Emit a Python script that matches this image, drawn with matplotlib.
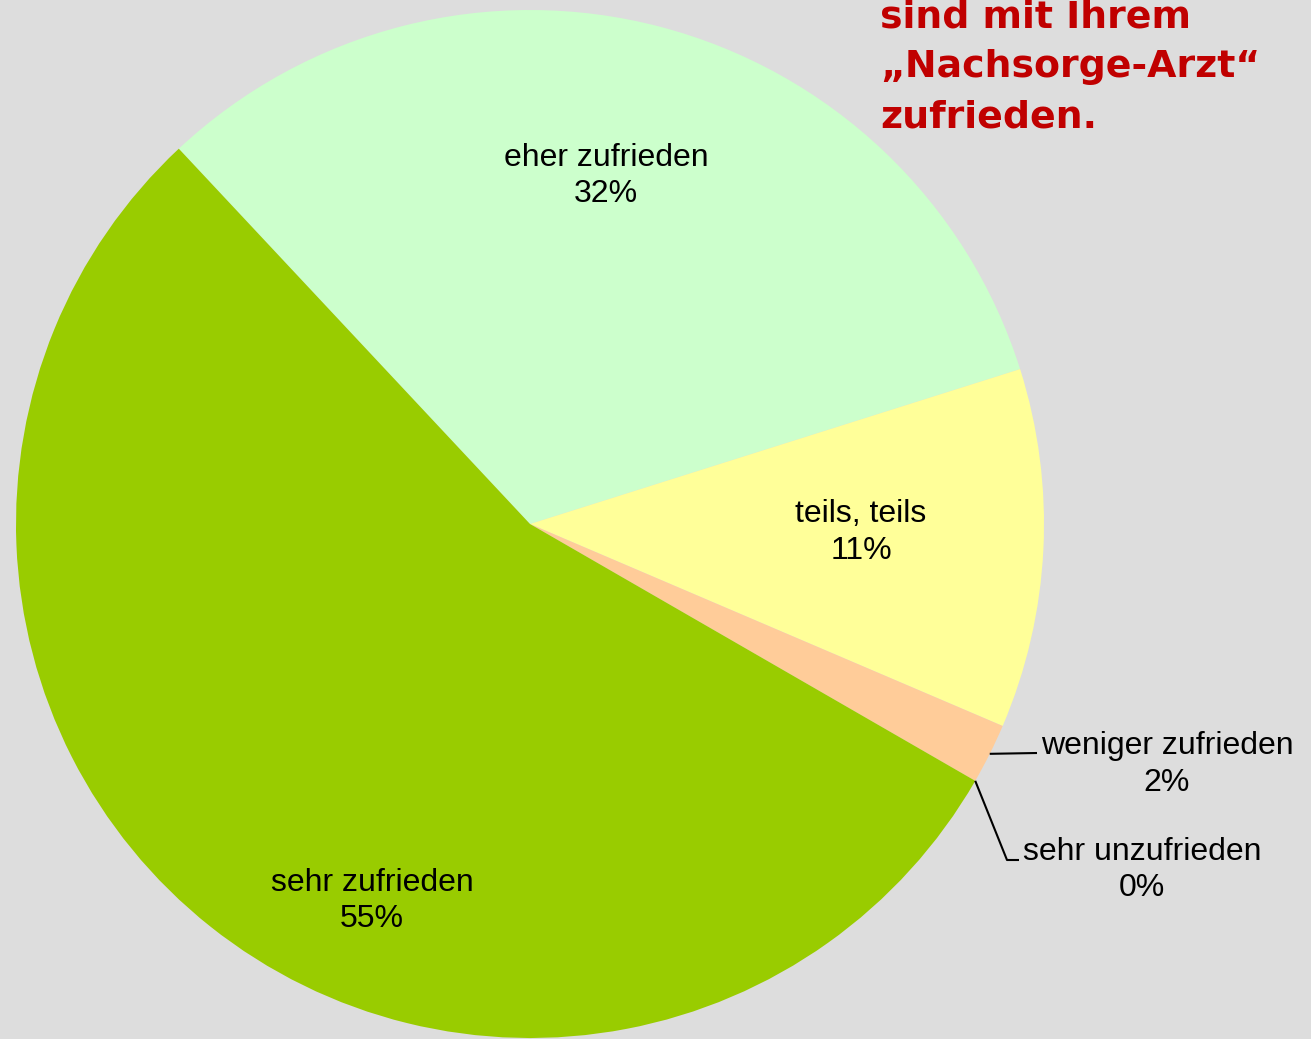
import numpy as np
import matplotlib
matplotlib.use("Agg")
import matplotlib.pyplot as plt

# ---- data ----
categories = ["eher zufrieden", "teils, teils", "weniger zufrieden",
              "sehr unzufrieden", "sehr zufrieden"]
values = [32.1, 11.3, 1.9, 0.0, 54.7]
pct_labels = ["32%", "11%", "2%", "0%", "55%"]
colors = ["#CCFFCC", "#FFFF99", "#FFCC99", "#CC99FF", "#99CC00"]
title_lines = ["sind mit Ihrem", "\u201eNachsorge-Arzt\u201c", "zufrieden."]

W, H = 1311, 1039
BG = "#DDDDDD"
fig = plt.figure(figsize=(W / 100, H / 100), dpi=100, facecolor=BG)
ax = fig.add_axes([0, 0, 1, 1])
ax.set_facecolor(BG)

cx, cy_px, R = 530, 524, 514
cy = H - cy_px
start = 133.1

wedges, _ = ax.pie(values, colors=colors, startangle=start, counterclock=False,
                   center=(cx, cy), radius=R, frame=True,
                   wedgeprops=dict(linewidth=0, antialiased=True))
ax.set_xlim(0, W)
ax.set_ylim(0, H)
ax.set_aspect("equal", adjustable="box")
ax.axis("off")

# wedge angles
ends = start - np.cumsum(values) / 100 * 360
starts = np.concatenate([[start], ends[:-1]])
mids = (starts + ends) / 2

FONT = "Liberation Sans"
FS = 23

def label(xp, yb1, yb2, t1, t2):
    ax.text(xp, H - yb1, t1, ha="center", va="baseline", fontsize=FS,
            family=FONT, color="black")
    ax.text(xp, H - yb2, t2, ha="center", va="baseline", fontsize=FS,
            family=FONT, color="black")

# inside labels
label(606, 166, 202, categories[0], pct_labels[0])
label(861, 522, 559, categories[1], pct_labels[1])
label(372, 891, 927, categories[4], pct_labels[4])
# outside labels
label(1167, 754, 791, categories[2], pct_labels[2])
label(1142, 860, 896, categories[3], pct_labels[3])

# leader lines
def edge_pt(angle):
    a = np.deg2rad(angle)
    return cx + R * np.cos(a), cy + R * np.sin(a)

x0, y0 = edge_pt(mids[2])
ax.plot([x0, 1037], [y0, H - 753], color="black", lw=1.5, solid_capstyle="butt")
x1, y1 = edge_pt(mids[3])
ax.plot([x1, 1007, 1019], [y1, H - 860, H - 860], color="black", lw=1.5,
        solid_capstyle="butt")

# title (partially cut off at top)
for line, yb in zip(title_lines, [27, 77, 128]):
    ax.text(880, H - yb, line, ha="left", va="baseline", fontsize=27.3,
            fontweight="bold", family="DejaVu Sans", color="#C00000")

fig.savefig("out.png", dpi=100, facecolor=BG)
